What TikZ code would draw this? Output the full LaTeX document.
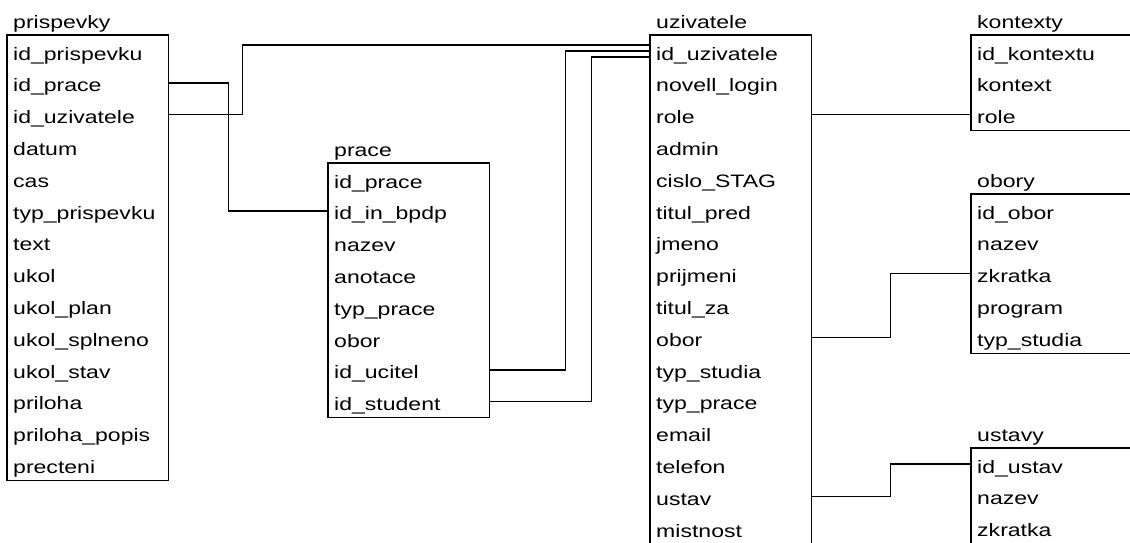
\documentclass[tikz,border=0pt]{standalone}
\usepackage{fontspec}
\setmainfont{Liberation Sans}[FakeStretch=1.28]
\begin{document}
\fontsize{18}{20}\selectfont
\begin{tikzpicture}[x=1pt,y=-1pt,
  rowcell/.style={anchor=north west, minimum height=31.8pt, text width=149pt,
    inner xsep=6pt, inner ysep=0pt, text height=22pt, text depth=4pt, align=left},
  tabtitle/.style={anchor=base west, inner sep=0pt},
  tabframe/.style={draw=black, line width=1.3pt},
  link/.style={draw=black, line width=1.3pt}]
\useasboundingbox (0,0) rectangle (1130,542);
\fill[white] (0,0) rectangle (1130,542);
\clip (0,0) rectangle (1130,542);
\newcommand\mktable[7]{%
  \node[tabtitle] (#1-title) at (#2+6,#3-7) {#4};
  \foreach \rowtext [count=\i] in {#5} {
    \node[rowcell] (#1-\i) at (#2,{#3+(\i-1)*31.8}) {\rowtext};
  }
  \draw[tabframe] (#1-1.north west) rectangle ([yshift=-#7]#1-#6.south east);
}
\mktable{pp}{7}{35}{prispevky}{id\_prispevku,id\_prace,id\_uzivatele,datum,cas,typ\_prispevku,text,ukol,ukol\_plan,ukol\_splneno,ukol\_stav,priloha,priloha\_popis,precteni}{14}{0pt}
\mktable{pr}{328}{163}{prace}{id\_prace,id\_in\_bpdp,nazev,anotace,typ\_prace,obor,id\_ucitel,id\_student}{8}{0pt}
\mktable{uz}{650}{35}{uzivatele}{id\_uzivatele,novell\_login,role,admin,cislo\_STAG,titul\_pred,jmeno,prijmeni,titul\_za,obor,typ\_studia,typ\_prace,email,telefon,ustav,mistnost}{16}{0pt}
\mktable{ko}{971}{35}{kontexty}{id\_kontextu,kontext,role}{3}{0pt}
\mktable{ob}{971}{194}{obory}{id\_obor,nazev,zkratka,program,typ\_studia}{5}{0pt}
\mktable{us}{971}{448}{ustavy}{id\_ustav,nazev,zkratka}{3}{30pt}
% connectors
\draw[link] (pp-2.east) -- ++(60,0) |- (pr-2.west);
\draw[link] (pp-3.east) -- ++(74,0) |- ([yshift=6pt]uz-1.west);
\draw[link] (pr-7.east) -- ++(76,0) |- (uz-1.west);
\draw[link] (pr-8.east) -- ++(102,0) |- ([yshift=-6pt]uz-1.west);
\draw[link] (uz-3.east) -- (ko-3.west);
\draw[link] (uz-10.east) -- ++(79,0) |- (ob-3.west);
\draw[link] (uz-15.east) -- ++(79,0) |- (us-1.west);
\end{tikzpicture}
\end{document}
